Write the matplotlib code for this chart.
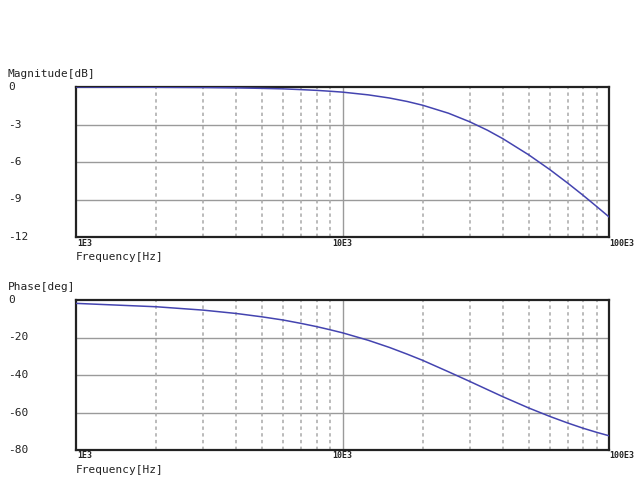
import matplotlib
matplotlib.use('Agg')
import matplotlib.pyplot as plt
import numpy as np

# frequency points
freq = [1000, 2000, 3000, 4000, 5000, 6000, 7000, 8000, 9000, 10000,
        12500, 15000, 17500, 20000, 25000, 30000, 35000, 40000, 50000,
        60000, 70000, 80000, 90000, 100000]
mag_db = [0.0, -0.02, -0.04, -0.07, -0.11, -0.15, -0.21, -0.27, -0.34, -0.41,
          -0.63, -0.88, -1.16, -1.46, -2.10, -2.78, -3.46, -4.14, -5.43,
          -6.61, -7.69, -8.67, -9.57, -10.39]
phase_deg = [-1.8, -3.6, -5.4, -7.2, -9.0, -10.7, -12.5, -14.2, -15.9, -17.5,
             -21.5, -25.3, -28.9, -32.2, -38.3, -43.4, -47.8, -51.6, -57.6,
             -62.1, -65.6, -68.4, -70.6, -72.4]

mag_ticks = [0, -3, -6, -9, -12]
phase_ticks = [0, -20, -40, -60, -80]
x_labels = ['1E3', '10E3', '100E3']

mono = 'DejaVu Sans Mono'
line_col = '#4444b0'
grid_col = '#9a9a9a'

fig = plt.figure(figsize=(6.4, 4.8), dpi=100)
ax1 = fig.add_axes([76/640, 1-237/480, 533/640, 150/480])
ax2 = fig.add_axes([76/640, 1-450/480, 533/640, 150/480])

lab_x = (8 - 76) / 533.0


def setup(ax, yticks, ylabel):
    ax.set_xscale('log')
    ax.set_xlim(1000, 100000)
    ax.set_ylim(yticks[-1], yticks[0])
    ax.set_xticks([])
    ax.set_yticks([])
    ax.minorticks_off()
    for s in ax.spines.values():
        s.set_linewidth(1.6)
        s.set_color('#222222')
    # horizontal grid
    for v in yticks[1:-1]:
        ax.axhline(v, color=grid_col, lw=1.0, zorder=1)
    # vertical grid, dashed except the decade line
    for dec in [1000, 10000]:
        for k in range(2, 10):
            ax.axvline(dec*k, color='#a8a8a8', lw=1.1, ls=(0, (2.2, 2.2)), zorder=1)
    ax.axvline(10000, color=grid_col, lw=1.0, zorder=1)
    yt = ax.get_yaxis_transform()
    for v in yticks:
        ax.text(lab_x, v, str(v), transform=yt, ha='left', va='center',
                fontsize=8, family=mono, color='#222222')
    ax.text(lab_x, 1 + 13/150, ylabel, transform=ax.transAxes, ha='left',
            va='center', fontsize=8, family=mono, color='#222222')
    xt = ax.get_xaxis_transform()
    ax.text(1000 * 1.01, -6/150, x_labels[0], transform=xt, ha='left', va='center',
            fontsize=6, family=mono, weight='bold', color='#222222')
    ax.text(10000, -6/150, x_labels[1], transform=xt, ha='center', va='center',
            fontsize=6, family=mono, weight='bold', color='#222222')
    ax.text(100000, -6/150, x_labels[2], transform=xt, ha='left', va='center',
            fontsize=6, family=mono, weight='bold', color='#222222')
    ax.text(0, -20/150, 'Frequency[Hz]', transform=ax.transAxes, ha='left',
            va='center', fontsize=8, family=mono, color='#222222')


setup(ax1, mag_ticks, 'Magnitude[dB]')
ax1.plot(freq, mag_db, color=line_col, lw=1.1, zorder=3)

setup(ax2, phase_ticks, 'Phase[deg]')
ax2.plot(freq, phase_deg, color=line_col, lw=1.1, zorder=3)

fig.savefig('out.png', dpi=100)
